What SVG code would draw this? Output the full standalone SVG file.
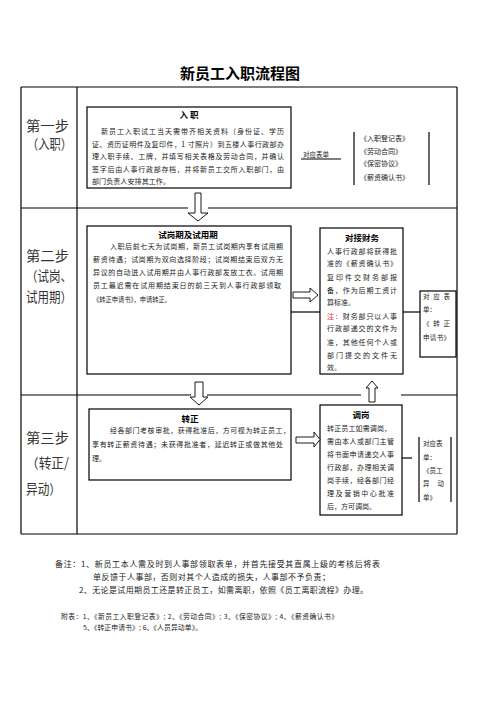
<svg xmlns="http://www.w3.org/2000/svg" width="496" height="702" viewBox="0 0 496 702">
<style>
text{font-family:"Noto Sans CJK SC","Noto Sans",sans-serif;fill:#222}
.title{font-size:15px;font-weight:bold;fill:#000}
.step{font-size:13.5px;fill:#333}
.bt{font-size:7px}
.bh{font-size:8.5px;font-weight:bold;fill:#000}
.sm{font-size:6.5px}
.note{font-size:8px}
.app{font-size:6.8px}
.red{fill:#e03030}
.ln{stroke:#000;stroke-width:1.2;fill:none}
.box{fill:#fff;stroke:#000;stroke-width:1.2}
.arr{fill:#fff;stroke:#000;stroke-width:0.9}
</style>
<rect width="496" height="702" fill="#fff"/>
<text class="title" x="240" y="79" text-anchor="middle">新员工入职流程图</text>

<g id="table">
<line class="ln" x1="21" y1="87" x2="457" y2="87"/>
<line class="ln" x1="21" y1="87" x2="21" y2="534"/>
<line class="ln" x1="457" y1="87" x2="457" y2="534"/>
<line class="ln" x1="21" y1="534" x2="457" y2="534"/>
<line class="ln" x1="77" y1="87" x2="77" y2="534"/>
<line class="ln" x1="21" y1="208" x2="188" y2="208"/>
<line class="ln" x1="208" y1="208" x2="457" y2="208"/>
<line class="ln" x1="21" y1="395" x2="191" y2="395"/>
<line class="ln" x1="207" y1="395" x2="361" y2="395"/>
<line class="ln" x1="401" y1="395" x2="457" y2="395"/>
</g>

<g id="step1">
<text class="step" x="26" y="131" textLength="43" lengthAdjust="spacingAndGlyphs">第一步</text>
<text class="step" x="27" y="149" textLength="45" lengthAdjust="spacingAndGlyphs">（入职）</text>
</g>
<g id="step2">
<text class="step" x="26" y="261" textLength="43" lengthAdjust="spacingAndGlyphs">第二步</text>
<text class="step" x="26" y="281" textLength="46" lengthAdjust="spacingAndGlyphs">（试岗、</text>
<text class="step" x="26" y="302" textLength="46" lengthAdjust="spacingAndGlyphs">试用期）</text>
</g>
<g id="step3">
<text class="step" x="26" y="443" textLength="43" lengthAdjust="spacingAndGlyphs">第三步</text>
<text class="step" x="26" y="468" textLength="43" lengthAdjust="spacingAndGlyphs">（转正/</text>
<text class="step" x="26" y="494" textLength="35" lengthAdjust="spacingAndGlyphs">异动）</text>
</g>

<g id="node-ruzhi">
<rect class="box" x="87" y="107" width="204" height="81"/>
<text class="bh" x="189" y="118" text-anchor="middle">入 职</text>
<text class="bt" x="101" y="134" textLength="183" lengthAdjust="spacing">新员工入职试工当天需带齐相关资料（身份证、学历</text>
<text class="bt" x="92" y="146.5" textLength="192" lengthAdjust="spacing">证、资历证明件及复印件，1 寸照片）到五楼人事行政部办</text>
<text class="bt" x="92" y="159" textLength="192" lengthAdjust="spacing">理入职手续、工牌，并填写相关表格及劳动合同，并确认</text>
<text class="bt" x="92" y="172" textLength="192" lengthAdjust="spacing">签字后由人事行政部存档，并将新员工交所入职部门，由</text>
<text class="bt" x="92" y="184" textLength="78" lengthAdjust="spacingAndGlyphs">部门负责人安排其工作。</text>
</g>

<g id="forms1">
<text class="sm" x="303" y="157" font-size="5.5">对应表单</text>
<line class="ln" x1="301" y1="159" x2="341" y2="159" stroke-width="1"/>
<line class="ln" x1="354" y1="132" x2="354" y2="185" stroke-width="1"/>
<line class="ln" x1="429" y1="132" x2="429" y2="185" stroke-width="1"/>
<text class="bt" x="360" y="141" font-size="7.6">《入职登记表》</text>
<text class="bt" x="360" y="154" font-size="7.6">《劳动合同》</text>
<text class="bt" x="360" y="166" font-size="7.6">《保密协议》</text>
<text class="bt" x="360" y="180" font-size="7.6">《薪资确认书》</text>
</g>

<g id="node-shigang">
<rect class="box" x="87" y="226" width="204" height="148"/>
<text class="bh" x="188" y="238" text-anchor="middle">试岗期及试用期</text>
<text class="bt" x="110" y="249" textLength="173" lengthAdjust="spacing">入职后前七天为试岗期，新员工试岗期内享有试用期</text>
<text class="bt" x="93" y="262" textLength="190" lengthAdjust="spacing">薪资待遇；试岗期为双向选择阶段；试岗期结束后双方无</text>
<text class="bt" x="93" y="275" textLength="190" lengthAdjust="spacing">异议的自动进入试用期并由人事行政部发放工衣。试用期</text>
<text class="bt" x="93" y="288" textLength="188" lengthAdjust="spacing">员工最迟需在试用期结束日的前三天到人事行政部领取</text>
<text class="bt" x="93" y="302" textLength="78" lengthAdjust="spacingAndGlyphs">《转正申请书》，申请转正。</text>
</g>

<g id="node-caiwu">
<rect class="box" x="320" y="228" width="83" height="146"/>
<text class="bh" x="362" y="241" text-anchor="middle">对接财务</text>
<text class="bt" x="327" y="254" textLength="70" lengthAdjust="spacing">人事行政部将获得批</text>
<text class="bt" x="327" y="266" textLength="70" lengthAdjust="spacing">准的《薪资确认书》</text>
<text class="bt" x="327" y="280" textLength="70" lengthAdjust="spacing">复印件交财务部报</text>
<text class="bt" x="327" y="293" textLength="70" lengthAdjust="spacing">备，作为后期工资计</text>
<text class="bt" x="327" y="305">算标准。</text>
<text class="bt" x="327" y="319" textLength="70" lengthAdjust="spacing"><tspan class="red">注：</tspan>财务部只以人事</text>
<text class="bt" x="327" y="331" textLength="70" lengthAdjust="spacing">行政部递交的文件为</text>
<text class="bt" x="327" y="345" textLength="70" lengthAdjust="spacing">准，其他任何个人或</text>
<text class="bt" x="327" y="358" textLength="70" lengthAdjust="spacing">部门提交的文件无</text>
<text class="bt" x="327" y="370">效。</text>
</g>

<g id="forms2">
<rect class="box" x="420" y="291" width="36" height="66"/>
<text class="sm" x="423" y="299" textLength="27" lengthAdjust="spacing">对 应 表</text>
<text class="sm" x="423" y="312">单：</text>
<text class="sm" x="423" y="326" textLength="27" lengthAdjust="spacing">《 转 正</text>
<text class="sm" x="423" y="340" textLength="27" lengthAdjust="spacing">申请书》</text>
</g>

<g id="node-zhuanzheng">
<rect class="box" x="89" y="409" width="202" height="71"/>
<text class="bh" x="190" y="422" text-anchor="middle">转正</text>
<text class="bt" x="110" y="433" textLength="180" lengthAdjust="spacing">经各部门考核审批，获得批准后，方可视为转正员工，</text>
<text class="bt" x="92" y="447" textLength="191" lengthAdjust="spacing">享有转正薪资待遇；未获得批准者，延迟转正或做其他处</text>
<text class="bt" x="92" y="461">理。</text>
</g>

<g id="node-tiaogang">
<rect class="box" x="320" y="405" width="82" height="110"/>
<text class="bh" x="361" y="418" text-anchor="middle">调岗</text>
<text class="bt" x="327" y="431" textLength="64" lengthAdjust="spacing">转正员工如需调岗，</text>
<text class="bt" x="327" y="444" textLength="67" lengthAdjust="spacing">需由本人或部门主管</text>
<text class="bt" x="327" y="457" textLength="67" lengthAdjust="spacing">将书面申请递交人事</text>
<text class="bt" x="327" y="470" textLength="67" lengthAdjust="spacing">行政部，办理相关调</text>
<text class="bt" x="327" y="483" textLength="67" lengthAdjust="spacing">岗手续，经各部门经</text>
<text class="bt" x="327" y="496" textLength="67" lengthAdjust="spacing">理及营销中心批准</text>
<text class="bt" x="327" y="509">后，方可调岗。</text>
</g>

<g id="forms3">
<line class="ln" x1="419" y1="437" x2="419" y2="502" stroke-width="1"/>
<line class="ln" x1="451" y1="437" x2="451" y2="502" stroke-width="1"/>
<text class="sm" x="423" y="446">对应表</text>
<text class="sm" x="423" y="460">单：</text>
<text class="sm" x="423" y="473">《员工</text>
<text class="sm" x="423" y="486" textLength="21" lengthAdjust="spacing">异 动</text>
<text class="sm" x="423" y="500">单》</text>
</g>

<g id="connectors">
<line class="ln" x1="291" y1="312" x2="320" y2="312" stroke-width="1"/>
<line class="ln" x1="403" y1="312" x2="420" y2="312" stroke-width="1"/>
<line class="ln" x1="402" y1="458" x2="412" y2="458" stroke-width="1"/>
<polygon class="arr" points="195,193 201,193 201,213 208,213 198,221 188,213 195,213"/>
<polygon class="arr" points="195,382 203,382 203,397 208,397 199,405 190,397 195,397"/>
<polygon class="arr" points="369,402 375,402 375,388 378,388 372,381 366,388 369,388"/>
<polygon class="arr" points="293,292 310,292 310,288 318,295 310,302 310,298 293,298"/>
<polygon class="arr" points="296,437 314,437 314,432 320,439.5 314,447 314,443 296,443"/>
</g>

<g id="notes">
<text class="note" x="55" y="567" textLength="325" lengthAdjust="spacing">备注：1、新员工本人需及时到人事部领取表单，并首先接受其直属上级的考核后将表</text>
<text class="note" x="93" y="580" textLength="237" lengthAdjust="spacing">单反馈于人事部，否则对其个人造成的损失，人事部不予负责；</text>
<text class="note" x="79" y="593" textLength="289" lengthAdjust="spacing">2、无论是试用期员工还是转正员工，如需离职，依照《员工离职流程》办理。</text>
</g>

<g id="appendix">
<text class="app" x="61" y="619" textLength="277" lengthAdjust="spacing">附表：1、《新员工入职登记表》; 2、《劳动合同》; 3、《保密协议》; 4、《薪资确认书》</text>
<text class="app" x="83" y="630" textLength="119" lengthAdjust="spacing">5、《转正申请书》; 6、《人员异动单》。</text>
</g>
</svg>
